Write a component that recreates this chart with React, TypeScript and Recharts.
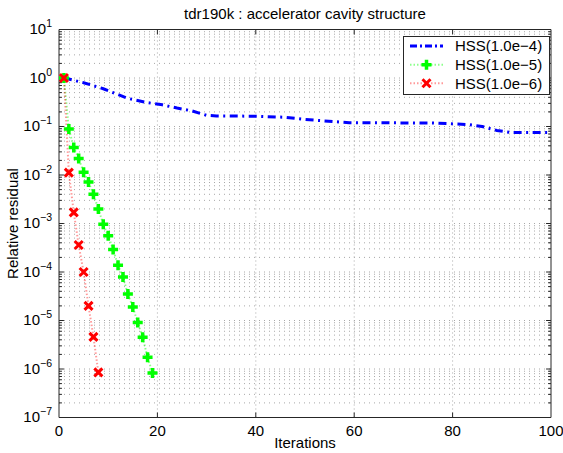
import React from 'react';
import { LineChart, Line, XAxis, YAxis, ReferenceLine, Legend } from 'recharts';

const FONT = '"Liberation Sans", Arial, Helvetica, sans-serif';

const TITLE = 'tdr190k : accelerator cavity structure';
const X_LABEL = 'Iterations';
const Y_LABEL = 'Relative residual';

const xTicks = [0, 20, 40, 60, 80, 100];
const xGridValues = [20, 40, 60, 80];
const yExponents = [-7, -6, -5, -4, -3, -2, -1, 0, 1];
const yMinorMultipliers = [2, 3, 4, 5, 6, 7, 8, 9];

const seriesNames = ['HSS(1.0e\u22124)', 'HSS(1.0e\u22125)', 'HSS(1.0e\u22126)'];

// HSS(1.0e-4)
const hss4Iterations = [1, 2, 5, 9, 14, 18, 21, 24, 27, 30, 32, 40, 46, 50, 56, 59, 76, 83, 86, 89, 92, 100];
const hss4Residuals = [1.0, 0.95, 0.8, 0.6, 0.38, 0.31, 0.28, 0.24, 0.21, 0.17, 0.165, 0.163, 0.155, 0.14, 0.126, 0.12, 0.118, 0.11, 0.1, 0.083, 0.075, 0.075];

// HSS(1.0e-5)
const hss5Iterations = [1, 2, 3, 4, 5, 6, 7, 8, 9, 10, 11, 12, 13, 14, 15, 16, 17, 18, 19];
const hss5Residuals = [1.0, 0.089, 0.037, 0.022, 0.0114, 0.0072, 0.004, 0.002, 9.6e-4, 5.6e-4, 2.9e-4, 1.38e-4, 7.9e-5, 3.5e-5, 1.9e-5, 9.1e-6, 4.5e-6, 1.75e-6, 8.3e-7];

// HSS(1.0e-6)
const hss6Iterations = [1, 2, 3, 4, 5, 6, 7, 8];
const hss6Residuals = [1.0, 0.0112, 1.7e-3, 3.6e-4, 1.0e-4, 2.0e-5, 4.6e-6, 8.5e-7];

const zip = (its: number[], rs: number[]) => its.map((it, i) => ({ iter: it, res: rs[i] }));
const hss4Data = zip(hss4Iterations, hss4Residuals);
const hss5Data = zip(hss5Iterations, hss5Residuals);
const hss6Data = zip(hss6Iterations, hss6Residuals);

const yTicks = yExponents.map((e) => Math.pow(10, e));
const yMinor: number[] = [];
yExponents.slice(0, -1).forEach((e) => yMinorMultipliers.forEach((m) => yMinor.push(m * Math.pow(10, e))));
const yGridValues = [...yTicks.slice(1, -1), ...yMinor];

const X_MIN = 0, X_MAX = 100, Y_MIN = 1e-7, Y_MAX = 10;
// tick lengths in data units (approx. 5px and 3px)
const MAJOR_X_LEN = 1.0;
const MINOR_X_LEN = 0.6;
const X_TICK_FACTOR = Math.pow(10, 5 / 48.5);

const AXIS_COLOR = '#262626';
const GRID_COLOR = '#a8a8a8';

const BLUE = '#0000ff';
const GREEN = '#00ff00';
const RED = '#ff0000';

const PlusDot = (props: any) => {
  const { cx, cy, index } = props;
  if (cx == null || cy == null) return <g key={`p${index}`} />;
  const r = 5;
  return (
    <path
      key={`p${index}`}
      d={`M${cx - r},${cy}H${cx + r}M${cx},${cy - r}V${cy + r}`}
      stroke={GREEN}
      strokeWidth={3.5}
      fill="none"
    />
  );
};

const CrossDot = (props: any) => {
  const { cx, cy, index } = props;
  if (cx == null || cy == null) return <g key={`c${index}`} />;
  const r = 4;
  return (
    <path
      key={`c${index}`}
      d={`M${cx - r},${cy - r}L${cx + r},${cy + r}M${cx + r},${cy - r}L${cx - r},${cy + r}`}
      stroke={RED}
      strokeWidth={3}
      fill="none"
    />
  );
};

const YTick = (props: any) => {
  const { x, y, payload } = props;
  const e = Math.round(Math.log10(payload.value));
  const expStr = e < 0 ? '\u2212' + Math.abs(e) : String(e);
  return (
    <text x={x - 7} y={y + 4.5} textAnchor="end" fontFamily={FONT} fontSize={15} fill="#000">
      10<tspan dy={-7} fontSize={10.5}>{expStr}</tspan>
    </text>
  );
};

const XTick = (props: any) => {
  const { x, y, payload } = props;
  return (
    <text x={x} y={y + 18.5} textAnchor="middle" fontFamily={FONT} fontSize={15} fill="#000">
      {payload.value}
    </text>
  );
};

const LegendBox = () => {
  const rows = [10, 28.7, 47.3];
  return (
    <svg width={147} height={59} style={{ display: 'block' }}>
      <rect x={0.5} y={0.5} width={146} height={58} fill="#fff" stroke={AXIS_COLOR} strokeWidth={1} />
      <line x1={7} x2={40} y1={rows[0]} y2={rows[0]} stroke={BLUE} strokeWidth={3} strokeDasharray="7 3 2 3" />
      <line x1={7} x2={40} y1={rows[1]} y2={rows[1]} stroke={GREEN} strokeOpacity={0.45} strokeWidth={2} strokeDasharray="1.5 2" />
      <PlusDot cx={23.5} cy={rows[1]} index={0} />
      <line x1={7} x2={40} y1={rows[2]} y2={rows[2]} stroke={RED} strokeOpacity={0.4} strokeWidth={2} strokeDasharray="1.5 2" />
      <CrossDot cx={23.5} cy={rows[2]} index={0} />
      {seriesNames.map((n, i) => (
        <text key={n} x={52} y={rows[i] + 5.3} fontFamily={FONT} fontSize={15} fill="#000">
          {n}
        </text>
      ))}
    </svg>
  );
};

export default function App() {
  return (
    <div style={{ position: 'absolute', left: 0, top: 0, width: 563, height: 453, background: '#fff' }}>
      <div
        style={{
          position: 'absolute',
          left: 0,
          width: 610,
          top: 6.3,
          textAlign: 'center',
          fontFamily: FONT,
          fontSize: 15,
          lineHeight: '15px',
          color: '#000',
          whiteSpace: 'nowrap',
        }}
      >
        {TITLE}
      </div>
      <LineChart width={563} height={453} margin={{ top: 29.5, right: 12, bottom: 5.5, left: 9 }}>
        <XAxis
          type="number"
          dataKey="iter"
          domain={[X_MIN, X_MAX]}
          ticks={xTicks}
          interval={0}
          allowDataOverflow
          height={30}
          axisLine={false}
          tickLine={false}
          tickSize={0}
          tickMargin={0}
          tick={<XTick />}
          label={{
            content: (p: any) => {
              const vb = p.viewBox || { x: 59, y: 417.5, width: 492 };
              return (
                <text x={vb.x + vb.width / 2} y={vb.y + 30.5} textAnchor="middle" fontFamily={FONT} fontSize={15} fill="#000">
                  {X_LABEL}
                </text>
              );
            },
          }}
        />
        <YAxis
          type="number"
          scale="log"
          dataKey="res"
          domain={[Y_MIN, Y_MAX]}
          ticks={yTicks}
          interval={0}
          allowDataOverflow
          width={50}
          axisLine={false}
          tickLine={false}
          tickSize={0}
          tickMargin={0}
          tick={<YTick />}
          label={{
            content: (p: any) => {
              const vb = p.viewBox || { x: 9, y: 29.5, width: 50, height: 388 };
              const cx = 12.5;
              const cy = vb.y + vb.height / 2;
              return (
                <text
                  x={cx}
                  y={cy}
                  transform={`rotate(-90 ${cx} ${cy})`}
                  textAnchor="middle"
                  dominantBaseline="central"
                  fontFamily={FONT}
                  fontSize={15}
                  fill="#000"
                >
                  {Y_LABEL}
                </text>
              );
            },
          }}
        />
        {yGridValues.map((v) => (
          <ReferenceLine key={`gy${v}`} y={v} stroke={GRID_COLOR} strokeWidth={1} strokeDasharray="1 4" />
        ))}
        {xGridValues.map((v) => (
          <ReferenceLine key={`gx${v}`} x={v} stroke={GRID_COLOR} strokeWidth={1} strokeDasharray="1 3" />
        ))}
        {yTicks.slice(1, -1).map((v) => (
          <ReferenceLine key={`tyl${v}`} segment={[{ x: X_MIN, y: v }, { x: X_MIN + MAJOR_X_LEN, y: v }]} stroke={AXIS_COLOR} strokeWidth={1} />
        ))}
        {yTicks.slice(1, -1).map((v) => (
          <ReferenceLine key={`tyr${v}`} segment={[{ x: X_MAX - MAJOR_X_LEN, y: v }, { x: X_MAX, y: v }]} stroke={AXIS_COLOR} strokeWidth={1} />
        ))}
        {yMinor.map((v) => (
          <ReferenceLine key={`myl${v}`} segment={[{ x: X_MIN, y: v }, { x: X_MIN + MINOR_X_LEN, y: v }]} stroke={AXIS_COLOR} strokeWidth={1} />
        ))}
        {yMinor.map((v) => (
          <ReferenceLine key={`myr${v}`} segment={[{ x: X_MAX - MINOR_X_LEN, y: v }, { x: X_MAX, y: v }]} stroke={AXIS_COLOR} strokeWidth={1} />
        ))}
        {xGridValues.map((v) => (
          <ReferenceLine key={`txb${v}`} segment={[{ x: v, y: Y_MIN }, { x: v, y: Y_MIN * X_TICK_FACTOR }]} stroke={AXIS_COLOR} strokeWidth={1} />
        ))}
        {xGridValues.map((v) => (
          <ReferenceLine key={`txt${v}`} segment={[{ x: v, y: Y_MAX }, { x: v, y: Y_MAX / X_TICK_FACTOR }]} stroke={AXIS_COLOR} strokeWidth={1} />
        ))}
        <ReferenceLine x={X_MIN} stroke={AXIS_COLOR} strokeWidth={1} />
        <ReferenceLine x={X_MAX} stroke={AXIS_COLOR} strokeWidth={1} />
        <ReferenceLine y={Y_MIN} stroke={AXIS_COLOR} strokeWidth={1} />
        <ReferenceLine y={Y_MAX} stroke={AXIS_COLOR} strokeWidth={1} />
        <Line
          data={hss4Data}
          dataKey="res"
          type="linear"
          stroke={BLUE}
          strokeWidth={3}
          strokeDasharray="8 4.5 2 4.5"
          dot={false}
          activeDot={false}
          isAnimationActive={false}
          legendType="none"
        />
        <Line
          data={hss5Data}
          dataKey="res"
          type="linear"
          stroke={GREEN}
          strokeOpacity={0.45}
          strokeWidth={2}
          strokeDasharray="1.5 2"
          dot={(p: any) => <PlusDot {...p} key={`p${p.index}`} />}
          activeDot={false}
          isAnimationActive={false}
          legendType="none"
        />
        <Line
          data={hss6Data}
          dataKey="res"
          type="linear"
          stroke={RED}
          strokeOpacity={0.4}
          strokeWidth={2}
          strokeDasharray="1.5 2"
          dot={(p: any) => <CrossDot {...p} key={`c${p.index}`} />}
          activeDot={false}
          isAnimationActive={false}
          legendType="none"
        />
        <Legend
          layout="vertical"
          align="center"
          verticalAlign="middle"
          content={() => <LegendBox />}
          wrapperStyle={{ position: 'absolute', left: 403, top: 36, width: 147, height: 59 }}
        />
      </LineChart>
    </div>
  );
}
